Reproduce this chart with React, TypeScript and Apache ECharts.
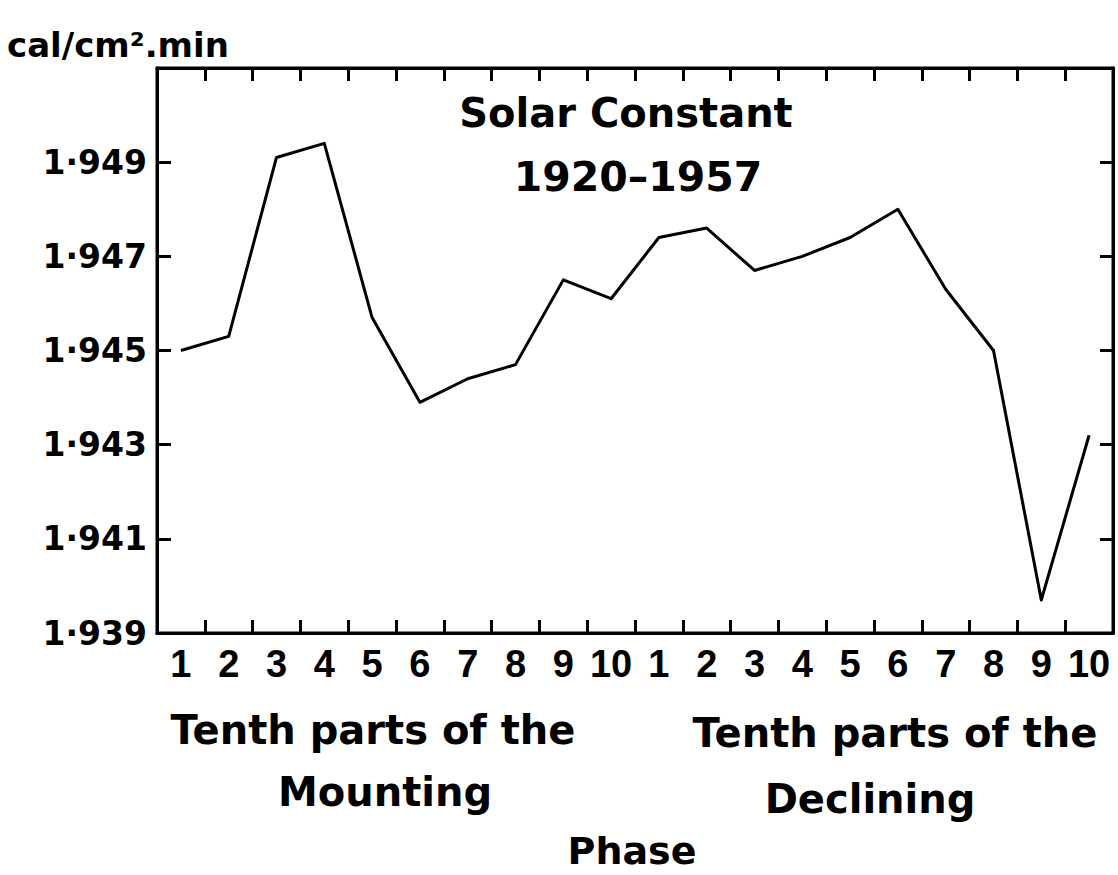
import React, { useEffect, useRef } from "react";
import * as echarts from "echarts";

// ---- data ----
const categories = [
  "M1", "M2", "M3", "M4", "M5", "M6", "M7", "M8", "M9", "M10",
  "D1", "D2", "D3", "D4", "D5", "D6", "D7", "D8", "D9", "D10",
];
const tickLabels = [
  "1", "2", "3", "4", "5", "6", "7", "8", "9", "10",
  "1", "2", "3", "4", "5", "6", "7", "8", "9", "10",
];
const mountingValues = [1.945, 1.9453, 1.9491, 1.9494, 1.9457, 1.9439, 1.9444, 1.9447, 1.9465, 1.9461];
const decliningValues = [1.9474, 1.9476, 1.9467, 1.947, 1.9474, 1.948, 1.9463, 1.945, 1.9397, 1.9432];
const yMin = 1.939;
const yMax = 1.951;
const yInterval = 0.002;

const unitLabel = "cal/cm².min";
const titleLine1 = "Solar Constant";
const titleLine2 = "1920–1957";
const leftCaption1 = "Tenth parts of the";
const leftCaption2 = "Mounting";
const rightCaption1 = "Tenth parts of the";
const rightCaption2 = "Declining";
const phaseLabel = "Phase";

const FONT = '"DejaVu Sans", sans-serif';

function txt(text: string, x: number, y: number, size: number, align = "center") {
  return {
    type: "text",
    x,
    y,
    style: {
      text,
      fill: "#000",
      fontSize: size,
      fontWeight: "bold",
      fontFamily: FONT,
      align,
      verticalAlign: "middle",
    },
  };
}

export default function App() {
  const ref = useRef<HTMLDivElement>(null);

  useEffect(() => {
    if (!ref.current) return;
    const chart = echarts.init(ref.current, undefined, { renderer: "svg" });
    const values = [...mountingValues, ...decliningValues];
    const axisLine = { show: true, lineStyle: { color: "#000", width: 3 } };
    const tick = (len: number) => ({
      show: true,
      inside: true,
      length: len,
      lineStyle: { color: "#000", width: 3 },
    });

    chart.setOption({
      animation: false,
      backgroundColor: "#fff",
      grid: {
        left: 157,
        right: 5,
        top: 68,
        bottom: 242,
        containLabel: false,
        outerBoundsMode: "none",
        show: true,
        borderColor: "#000",
        borderWidth: 3,
      },
      xAxis: [
        {
          type: "category",
          data: categories,
          boundaryGap: true,
          position: "bottom",
          axisLine,
          axisTick: { ...tick(13), interval: 0 },
          axisLabel: {
            interval: 0,
            margin: 12,
            color: "#000",
            fontSize: 38,
            fontWeight: "bold",
            fontFamily: '"Liberation Sans", sans-serif',
            formatter: (_v: string, i: number) => tickLabels[i],
          },
          splitLine: { show: false },
        },
        {
          type: "category",
          data: categories,
          boundaryGap: true,
          position: "top",
          axisLine,
          axisTick: { ...tick(13), interval: 0 },
          axisLabel: { show: false },
          splitLine: { show: false },
        },
      ],
      yAxis: [
        {
          type: "value",
          min: yMin,
          max: yMax,
          interval: yInterval,
          position: "left",
          axisLine,
          axisTick: tick(14),
          axisLabel: {
            margin: 10,
            color: "#000",
            fontSize: 33,
            fontWeight: "bold",
            fontFamily: FONT,
            formatter: (v: number) => (v > yMax - yInterval / 2 ? "" : v.toFixed(3).replace(".", "·")),
          },
          splitLine: { show: false },
        },
        {
          type: "value",
          min: yMin,
          max: yMax,
          interval: yInterval,
          position: "right",
          axisLine,
          axisTick: tick(13),
          axisLabel: { show: false },
          splitLine: { show: false },
        },
      ],
      series: [
        {
          type: "line",
          data: values,
          xAxisIndex: 0,
          yAxisIndex: 0,
          showSymbol: false,
          symbol: "none",
          lineStyle: { color: "#000", width: 3, join: "round" },
        },
      ],
      graphic: [
        txt(unitLabel, 7, 45, 34, "left"),
        txt(titleLine1, 626, 113, 40),
        txt(titleLine2, 638, 177, 41),
        txt(leftCaption1, 373, 730, 40),
        txt(leftCaption2, 385, 792, 40),
        txt(rightCaption1, 895, 733, 40),
        txt(rightCaption2, 870, 799, 40),
        txt(phaseLabel, 632, 851, 38),
      ],
    });
    return () => chart.dispose();
  }, []);

  return (
    <div
      ref={ref}
      style={{ position: "fixed", left: 0, top: 0, width: 1118, height: 875, background: "#fff" }}
    />
  );
}
